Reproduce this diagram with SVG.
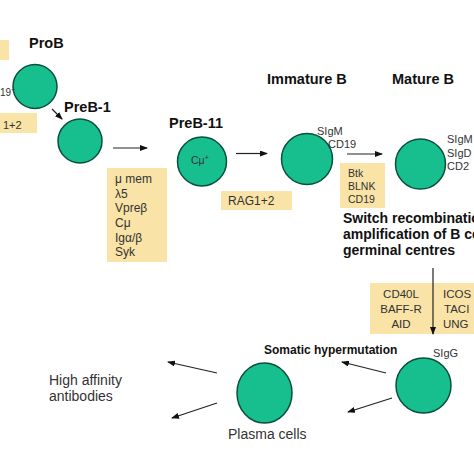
<svg xmlns="http://www.w3.org/2000/svg" width="474" height="474" viewBox="0 0 474 474">
<defs>
<marker id="ah" markerWidth="8" markerHeight="6" refX="7" refY="3" orient="auto" markerUnits="userSpaceOnUse">
<path d="M0,0 L8,3 L0,6 z" fill="#111"/>
</marker>
<style>
.cell{fill:#17BF8F;stroke:#0B4F3D;stroke-width:1.5}
.box{fill:#F9E3A7}
.t{font-family:"Liberation Sans",Arial,sans-serif;fill:#333}
.h{font-family:"Liberation Sans",Arial,sans-serif;font-weight:bold;fill:#111}
.c{stroke:#222;stroke-width:1.2;fill:none;marker-end:url(#ah)}
</style>
</defs>
<rect width="474" height="474" fill="#fff"/>

<g id="left-fragments">
<rect class="box" x="0" y="40" width="9" height="20"/>
<rect class="box" x="0" y="113" width="37" height="20"/>
<text class="t" x="3" y="129" font-size="11">1+2</text>
</g>

<g id="prob">
<text class="h" x="29" y="48" font-size="14.5">ProB</text>
<circle class="cell" cx="35" cy="86.5" r="22"/>
<text class="t" x="0" y="96" font-size="10">19<tspan font-size="7" dy="-4">+</tspan></text>
</g>

<g id="preb1">
<text class="h" x="64" y="112" font-size="14.5">PreB-1</text>
<circle class="cell" cx="80" cy="141" r="22"/>
</g>

<g id="preb1-box">
<rect class="box" x="107" y="168" width="60" height="94"/>
<text class="t" font-size="12"><tspan x="115" y="183">μ mem</tspan><tspan x="115" y="198">λ5</tspan><tspan x="115" y="212">Vpreβ</tspan><tspan x="115" y="227">Cμ</tspan><tspan x="115" y="242">Igα/β</tspan><tspan x="115" y="256">Syk</tspan></text>
</g>

<g id="preb11">
<text class="h" x="169" y="128" font-size="14.5">PreB-11</text>
<circle class="cell" cx="202" cy="161.5" r="24.5"/>
<text class="t" x="191" y="164" font-size="10.5">Cμ<tspan font-size="7" dy="-4">+</tspan></text>
</g>

<g id="rag-box">
<rect class="box" x="221" y="191" width="71" height="19"/>
<text class="t" x="228" y="205" font-size="12">RAG1+2</text>
</g>

<g id="immature">
<text class="h" x="267" y="84" font-size="14.5">Immature B</text>
<circle class="cell" cx="307" cy="159" r="25.5"/>
<text class="t" x="317" y="135" font-size="11">SIgM</text>
<text class="t" x="328" y="148" font-size="11">CD19</text>
</g>

<g id="btk-box">
<rect class="box" x="340" y="163" width="45" height="45"/>
<text class="t" font-size="10.5"><tspan x="348" y="177">Btk</tspan><tspan x="348" y="190">BLNK</tspan><tspan x="348" y="203">CD19</tspan></text>
</g>

<g id="mature">
<text class="h" x="392" y="84" font-size="14.5">Mature B</text>
<circle class="cell" cx="420.5" cy="164" r="25"/>
<text class="t" x="447" y="143" font-size="11">SIgM</text>
<text class="t" x="447" y="157" font-size="11">SIgD</text>
<text class="t" x="447" y="170" font-size="11">CD2</text>
</g>

<g id="switch">
<text class="h" font-size="14"><tspan x="343" y="223">Switch recombination</tspan><tspan x="343" y="239">amplification of B cells</tspan><tspan x="343" y="255">germinal centres</tspan></text>
</g>

<g id="cd40-box">
<rect class="box" x="370" y="283" width="104" height="51"/>
<text class="t" font-size="11.5" text-anchor="middle"><tspan x="401" y="298">CD40L</tspan><tspan x="401" y="313">BAFF-R</tspan><tspan x="401" y="328">AID</tspan></text>
<text class="t" font-size="11.5"><tspan x="443" y="298">ICOS</tspan><tspan x="444" y="313">TACI</tspan><tspan x="443" y="328">UNG</tspan></text>
</g>

<g id="sigg">
<circle class="cell" cx="423.5" cy="385.5" r="27.5"/>
<text class="t" x="433" y="357" font-size="11">SIgG</text>
<text class="h" x="264" y="354" font-size="12">Somatic hypermutation</text>
</g>

<g id="plasma">
<ellipse class="cell" cx="264.5" cy="393" rx="27.5" ry="30"/>
<text class="t" x="228" y="439" font-size="14">Plasma cells</text>
</g>

<g id="antibodies">
<text class="t" font-size="14"><tspan x="49" y="385">High affinity</tspan><tspan x="49" y="401">antibodies</tspan></text>
</g>

<g id="connectors">
<line class="c" x1="52" y1="109" x2="62" y2="119"/>
<line class="c" x1="113" y1="148" x2="147" y2="148"/>
<line class="c" x1="236" y1="153.5" x2="267" y2="153.5"/>
<line class="c" x1="347" y1="154" x2="382" y2="154"/>
<line class="c" x1="433" y1="268" x2="433" y2="334"/>
<line class="c" x1="386" y1="373" x2="342" y2="362"/>
<line class="c" x1="392" y1="398" x2="348" y2="412"/>
<line class="c" x1="217" y1="373" x2="168" y2="362"/>
<line class="c" x1="217" y1="403" x2="172" y2="418"/>
</g>
</svg>
